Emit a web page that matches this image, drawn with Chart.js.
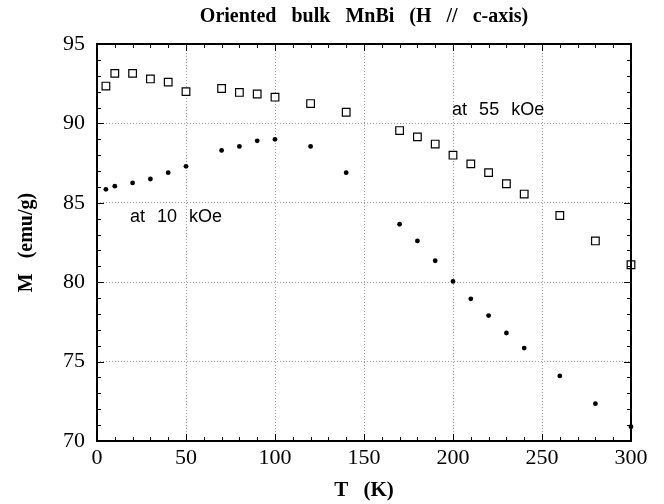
<!DOCTYPE html>
<html lang="en">
<head>
<meta charset="UTF-8">
<title>Oriented bulk MnBi (H // c-axis)</title>
<script src="https://cdn.jsdelivr.net/npm/chart.js"></script>
<style>
  body { margin: 0; background: #fff; }
  #wrap { width: 664px; height: 504px; }
</style>
</head>
<body>
<div id="wrap"><canvas id="myChart"></canvas></div>
<script>
// temperature (K) and magnetization (emu/g)
const temps = [5, 10, 20, 30, 40, 50, 70, 80, 90, 100, 120, 140,
               170, 180, 190, 200, 210, 220, 230, 240, 260, 280, 300];
const m55kOe = [92.35, 93.15, 93.15, 92.8, 92.6, 92.0, 92.2, 91.95, 91.85, 91.65, 91.25, 90.7,
                89.55, 89.15, 88.7, 88.0, 87.45, 86.9, 86.2, 85.55, 84.2, 82.6, 81.1];
const m10kOe = [85.85, 86.05, 86.25, 86.5, 86.9, 87.3, 88.3, 88.55, 88.9, 89.0, 88.55, 86.9,
                83.65, 82.6, 81.35, 80.05, 78.95, 77.9, 76.8, 75.85, 74.1, 72.35, 70.9];
const xTicks = [0, 50, 100, 150, 200, 250, 300];
const yTicks = [70, 75, 80, 85, 90, 95];

const serif = '"Liberation Serif", "Times New Roman", serif';
const sans = '"Liberation Sans", Arial, sans-serif';

// text labels in the plot, anchored in data units
const notes = [
  { text: 'at 55 kOe', t: 199.5, m: 90.85 },
  { text: 'at 10 kOe', t: 18.5, m: 84.1 }
];

const toXY = (xs, ys) => xs.map((x, i) => ({ x: x, y: ys[i] }));

// wide word gaps as in the original serif titles
const spacingPlugin = {
  id: 'spacing',
  beforeDraw(chart) {
    if ('wordSpacing' in chart.ctx) chart.ctx.wordSpacing = '10px';
  }
};

// frame, inside tick marks and the two text labels
const framePlugin = {
  id: 'frame',
  afterDatasetsDraw(chart) {
    const { ctx, chartArea: a, scales } = chart;
    const xs = scales.x, ys = scales.y;
    ctx.save();
    ctx.strokeStyle = '#000';
    ctx.lineWidth = 1;
    ctx.beginPath();
    for (let t = 0; t <= 300; t += 10) {
      const px = Math.round(xs.getPixelForValue(t)) + 0.5;
      const len = t % 50 === 0 ? 7 : 4;
      ctx.moveTo(px, a.bottom); ctx.lineTo(px, a.bottom - len);
      ctx.moveTo(px, a.top); ctx.lineTo(px, a.top + len);
    }
    for (let m = 70; m <= 95; m += 1) {
      const py = Math.round(ys.getPixelForValue(m)) + 0.5;
      const len = m % 5 === 0 ? 7 : 4;
      ctx.moveTo(a.left, py); ctx.lineTo(a.left + len, py);
      ctx.moveTo(a.right, py); ctx.lineTo(a.right - len, py);
    }
    ctx.stroke();
    ctx.lineWidth = 2;
    ctx.strokeRect(a.left, a.top, a.right - a.left, a.bottom - a.top);

    ctx.fillStyle = '#000';
    ctx.font = '18px ' + sans;
    ctx.textBaseline = 'middle';
    ctx.textAlign = 'left';
    if ('wordSpacing' in ctx) ctx.wordSpacing = '7px';
    notes.forEach(n => {
      ctx.fillText(n.text, xs.getPixelForValue(n.t), ys.getPixelForValue(n.m));
    });
    ctx.restore();
  }
};

const ctx = document.getElementById('myChart').getContext('2d');
const myChart = new Chart(ctx, {
  type: 'scatter',
  data: {
    datasets: [{
      label: 'at 55 kOe',
      data: toXY(temps, m55kOe),
      pointStyle: 'rect',
      pointRadius: 5.4,
      pointBorderWidth: 1.2,
      borderColor: '#000',
      backgroundColor: '#fff',
      clip: false
    }, {
      label: 'at 10 kOe',
      data: toXY(temps, m10kOe),
      pointStyle: 'circle',
      pointRadius: 2.4,
      pointBorderWidth: 0,
      borderColor: '#000',
      backgroundColor: '#000',
      clip: false
    }]
  },
  options: {
    responsive: true,
    maintainAspectRatio: false,
    animation: false,
    layout: { padding: { right: 33, left: 0, top: 0, bottom: 0 } },
    plugins: {
      legend: { display: false },
      tooltip: { enabled: false },
      title: {
        display: true,
        fullSize: false,
        text: 'Oriented bulk MnBi (H // c-axis)',
        color: '#000',
        font: { family: serif, size: 20, weight: 'bold' },
        padding: { top: 5, bottom: 15 }
      }
    },
    scales: {
      x: {
        type: 'linear',
        min: 0, max: 300,
        afterBuildTicks(scale) { scale.ticks = xTicks.map(v => ({ value: v })); },
        ticks: { padding: 4, color: '#000', font: { family: serif, size: 22 } },
        grid: { color: '#9a9a9a', lineWidth: 1, drawTicks: false },
        border: { display: false, dash: [1, 2] },
        title: {
          display: true, text: 'T (K)', color: '#000',
          font: { family: serif, size: 21, weight: 'bold' },
          padding: { top: 0, bottom: 1 }
        },
        afterFit(scale) { scale.height = 63; }
      },
      y: {
        type: 'linear',
        min: 70, max: 95,
        afterBuildTicks(scale) { scale.ticks = yTicks.map(v => ({ value: v })); },
        ticks: { padding: 12, color: '#000', font: { family: serif, size: 22 } },
        grid: { color: '#9a9a9a', lineWidth: 1, drawTicks: false },
        border: { display: false, dash: [1, 2] },
        title: {
          display: true, text: 'M (emu/g)', color: '#000',
          font: { family: serif, size: 20, weight: 'bold' },
          padding: { top: 15, bottom: 0 }
        },
        afterFit(scale) { scale.width = 97; }
      }
    }
  },
  plugins: [spacingPlugin, framePlugin]
});
</script>
</body>
</html>
